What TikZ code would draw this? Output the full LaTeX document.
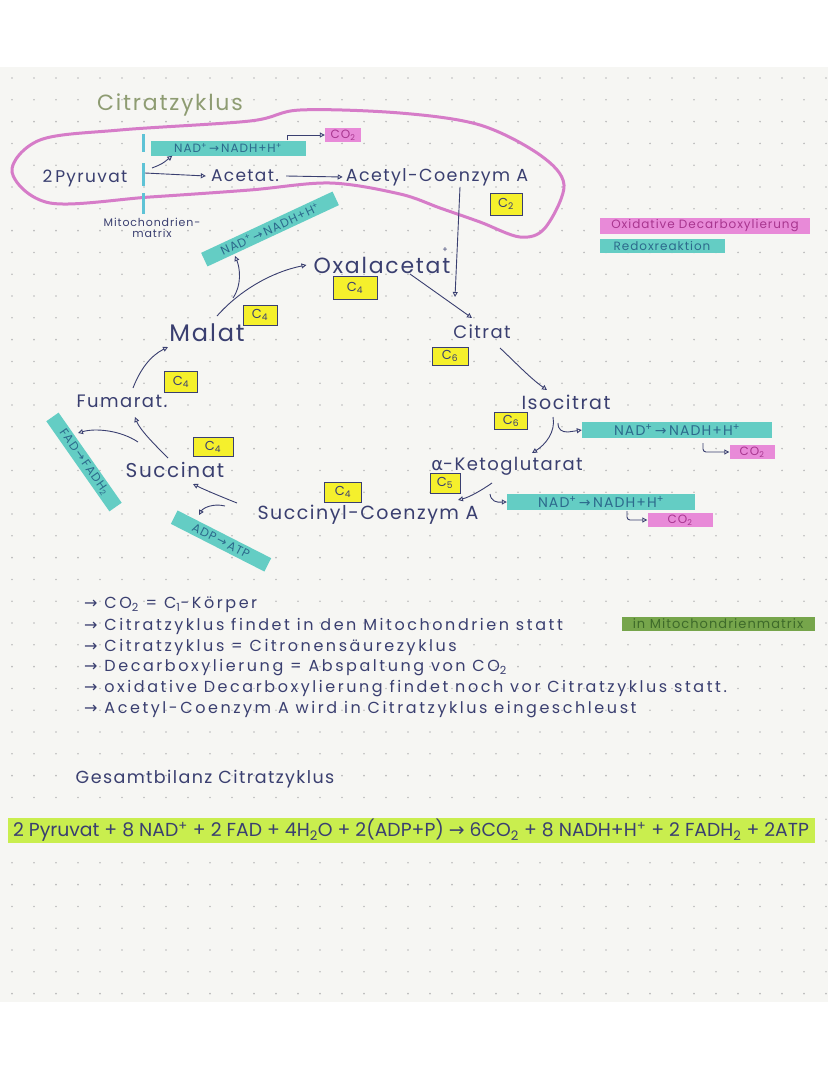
\documentclass[tikz,border=0pt]{standalone}
\usepackage{fontspec}
\setmainfont{Poppins}[LetterSpace=8]
\newfontfamily\notefont{Poppins}[LetterSpace=16]
\newfontfamily\plainfont{Poppins}
\newfontfamily\sym{DejaVu Sans}
\usetikzlibrary{arrows.meta}
\definecolor{ink}{HTML}{3A3F70}
\definecolor{paper}{HTML}{F6F6F3}
\definecolor{dotc}{HTML}{BBBBBB}
\definecolor{loopc}{HTML}{D67CC8}
\definecolor{tealh}{HTML}{64CDC4}
\definecolor{tealt}{HTML}{2C6A8C}
\definecolor{pinkh}{HTML}{E88AD8}
\definecolor{pinkt}{HTML}{A8358F}
\definecolor{yel}{HTML}{F5F02C}
\definecolor{lime}{HTML}{C9EE4E}
\definecolor{dgreen}{HTML}{76A54B}
\definecolor{dgreent}{HTML}{3E6A2A}
\definecolor{titlec}{HTML}{8E9C72}
\definecolor{memb}{HTML}{5EC3D6}
\newcommand{\fsz}[1]{\fontsize{#1}{#1}\selectfont}
\newcommand{\ra}{{\sym →}}
\newcommand{\pl}{\textsuperscript{+}}
\newcommand{\subs}[1]{\textsubscript{#1}}
\tikzset{
  txt/.style={text=ink, inner sep=1pt},
  cbox/.style={draw=ink, line width=0.8pt, fill=yel, text=ink, font=\fsz{13}, minimum width=35pt, minimum height=20pt, inner sep=1pt},
  tealband/.style={fill=tealh, text=tealt, inner sep=2pt, minimum height=15pt, font=\fsz{12}},
  pinkband/.style={fill=pinkh, text=pinkt, inner sep=2pt, minimum height=13pt, font=\fsz{12}},
  arr/.style={draw=ink, line width=0.9pt, -{Triangle[open,length=5pt,width=5pt]}},
  note/.style={text=ink, inner sep=0pt, anchor=west, font=\notefont\fsz{16}},
}
\begin{document}
\begin{tikzpicture}[x=1pt,y=-1pt]
\useasboundingbox (0,0) rectangle (828,1071);
\fill[white] (0,0) rectangle (828,1071);
\fill[paper] (0,67) rectangle (828,1002);
\foreach \i in {0,...,37}{\foreach \j in {0,...,42}{\fill[dotc] (12+22*\i,78+21.8*\j) circle (0.9);}}

% title and loop
\node[text=titlec, font=\fsz{22}, inner sep=0pt] (title) at (170,105) {Citratzyklus};
\draw[loopc, line width=3pt] plot[smooth cycle, tension=0.55] coordinates {(12,172) (40,140) (120,130) (250,121) (300,110) (400,113) (480,125) (540,155) (564,185) (545,228) (520,237) (480,222) (440,208) (400,194) (330,183) (250,190) (150,197) (50,203)};

% membrane
\draw[memb, line width=3pt] (143,134) -- (143,152);
\draw[memb, line width=3pt] (143,163) -- (143,186);
\draw[memb, line width=3pt] (143,193) -- (143,214);

\node[txt, font=\fsz{17}] (pyr) at (85,178) {2\,Pyruvat};
\node[txt, font=\fsz{17}] (acetat) at (245,176) {Acetat.};
\node[txt, font=\fsz{17.5}] (acoa) at (437,177) {Acetyl-Coenzym A};
\node[tealband, minimum width=155pt] (nad1) at (228,148) {NAD\pl\,\ra\,NADH+H\pl};
\node[pinkband, minimum width=36pt] (co1) at (343,135) {CO\subs{2}};
\node[cbox, minimum width=32pt, minimum height=22pt] (c2) at (506,204) {C\subs{2}};
\node[txt, font=\fsz{11}, align=center] (mito) at (152,228) {Mitochondrien-\\matrix};
\node[tealband, rotate=25, minimum width=145pt] (nad2) at (270,229) {NAD\pl\,\ra\,NADH+H\pl};

\coordinate (a1) at (145,173);
\coordinate (a2) at (152,168);
\draw[arr] (a1) -- ([xshift=-4pt]acetat.west);
\draw[arr] (a2) .. controls (162,164) .. ([xshift=22pt]nad1.south west);
\draw[arr] ([xshift=137pt]nad1.north west) |- (co1.west);
\draw[arr] ([xshift=6pt]acetat.east) -- ([xshift=-2pt]acoa.west);

% legend
\node[pinkband, minimum width=210pt] (leg1) at (705,226) {Oxidative Decarboxylierung};
\node[tealband, minimum width=125pt, minimum height=12pt] (leg2) at (662,246) {Redoxreaktion};

% cycle
\node[txt, font=\fsz{22}] (oxal) at (382,265) {Oxalacetat};
\node[cbox, minimum width=44pt, minimum height=23pt] (c4a) at (355,288) {C\subs{4}};
\node[txt, font=\fsz{24}] (malat) at (207,333) {Malat};
\node[cbox, minimum width=34pt] (c4b) at (260,315) {C\subs{4}};
\node[txt, font=\fsz{18}] (fum) at (122,401) {Fumarat.};
\node[cbox, minimum width=33pt, minimum height=21pt] (c4c) at (181,382) {C\subs{4}};
\node[txt, font=\fsz{20}] (succ) at (175,470) {Succinat};
\node[cbox, minimum width=40pt, minimum height=19pt] (c4e) at (213,447) {C\subs{4}};
\node[txt, font=\fsz{19}] (succoa) at (368,515) {Succinyl-Coenzym A};
\node[cbox, minimum width=37pt] (c4d) at (343,492) {C\subs{4}};
\node[tealband, rotate=-27, minimum width=105pt] (adp) at (221,541) {ADP\,\ra\,ATP};
\node[tealband, rotate=-55, minimum width=110pt] (fad) at (84,462) {FAD\,\ra\,FADH\subs{2}};
\node[txt, font=\fsz{18}] (citrat) at (482,332) {Citrat};
\node[cbox, minimum width=36pt, minimum height=18pt] (c6a) at (450,356) {C\subs{6}};
\node[txt, font=\fsz{19}] (iso) at (566,402) {Isocitrat};
\node[cbox, minimum width=33pt, minimum height=17pt] (c6b) at (511,421) {C\subs{6}};
\node[txt, font=\fsz{18}] (akg) at (507,466) {{\sym α}-Ketoglutarat};
\node[cbox, minimum width=30pt] (c5) at (445,483) {C\subs{5}};
\node[tealband, minimum width=188pt, font=\fsz{14}] (nad3) at (601,502) {NAD\pl\,\ra\,NADH+H\pl};
\node[pinkband, minimum width=65pt] (co3) at (680,520) {CO\subs{2}};
\node[tealband, minimum width=190pt, font=\fsz{14}] (nad4) at (677,430) {NAD\pl\,\ra\,NADH+H\pl};
\node[pinkband, minimum width=45pt] (co4) at (752,452) {CO\subs{2}};
\node[txt, font=\fsz{8}] (plus) at (445,250) {+};

\coordinate (cv) at (455,297);
\coordinate (m1) at (217,316);
\coordinate (m2) at (233,298);
\coordinate (m2e) at (235,256);
\coordinate (f1) at (133,388);
\coordinate (f1e) at (168,347);
\coordinate (s1) at (168,458);
\coordinate (s1e) at (135,417);
\coordinate (s2) at (138,442);
\coordinate (s2e) at (78,433);
\coordinate (sc1) at (237,503);
\coordinate (sc1e) at (193,484);
\coordinate (sc2) at (225,506);
\coordinate (sc2e) at (199,515);
\coordinate (o1) at (410,274);
\coordinate (o1e) at (472,318);
\coordinate (ci1) at (500,348);
\coordinate (ci1e) at (547,390);
\coordinate (i1) at (553,417);
\coordinate (i1e) at (532,453);
\coordinate (i2) at (558,423);
\coordinate (i3) at (703,443);
\coordinate (k1) at (492,483);
\coordinate (k1e) at (458,500);
\coordinate (k2) at (490,494);
\coordinate (k3) at (627,511);

\draw[arr] ([xshift=23pt]acoa.south) -- (cv);
\draw[arr] (m1) .. controls (240,290) and (272,272) .. ([xshift=-6pt]oxal.west);
\draw[arr] (m2) .. controls (242,285) and (240,268) .. (m2e);
\draw[arr] (f1) .. controls (140,370) and (150,356) .. (f1e);
\draw[arr] (s1) .. controls (155,445) and (140,430) .. (s1e);
\draw[arr] (s2) .. controls (120,430) and (95,428) .. (s2e);
\draw[arr] (sc1) .. controls (222,497) and (205,490) .. (sc1e);
\draw[arr] (sc2) .. controls (213,503) and (203,508) .. (sc2e);
\draw[arr] (o1) -- (o1e);
\draw[arr] (ci1) .. controls (515,362) and (530,378) .. (ci1e);
\draw[arr] (i1) .. controls (556,432) and (545,445) .. (i1e);
\draw[arr] (i2) .. controls (558,430) and (562,432) .. (568,432) -- (nad4.west);
\draw[arr, rounded corners=3pt] (i3) |- (co4.west);
\draw[arr] (k1) .. controls (482,490) and (470,497) .. (k1e);
\draw[arr] (k2) .. controls (491,501) and (496,503) .. (503,502) -- (nad3.west);
\draw[arr, rounded corners=3pt] (k3) |- (co3.west);

% notes
\node[note] (n1) at (84,605) {\ra\ CO\subs{2} = C\subs{1}-Körper};
\node[note] (n2) at (84,626) {\ra\ Citratzyklus findet in den Mitochondrien statt};
\node[fill=dgreen, text=dgreent, font=\fsz{13}, minimum width=193pt, minimum height=14pt, inner sep=1pt] (mm) at (718,624) {in Mitochondrienmatrix};
\node[note] (n3) at (84,647) {\ra\ Citratzyklus = Citronensäurezyklus};
\node[note] (n4) at (84,668) {\ra\ Decarboxylierung = Abspaltung von CO\subs{2}};
\node[note] (n5) at (84,689) {\ra\ oxidative Decarboxylierung findet noch vor Citratzyklus statt.};
\node[note] (n6) at (84,710) {\ra\ Acetyl-Coenzym A wird in Citratzyklus eingeschleust};

\node[txt, font=\fsz{17.5}] (ges) at (205,779) {Gesamtbilanz Citratzyklus};
\node[fill=lime, text=ink, font=\plainfont\fsz{18.8}, minimum width=807pt, minimum height=25pt, inner sep=0pt] (bil) at (411,830) {2 Pyruvat + 8 NAD\pl\ + 2 FAD + 4H\subs{2}O + 2(ADP+P) \ra\ 6CO\subs{2} + 8 NADH+H\pl\ + 2 FADH\subs{2} + 2ATP};
\end{tikzpicture}
\end{document}
